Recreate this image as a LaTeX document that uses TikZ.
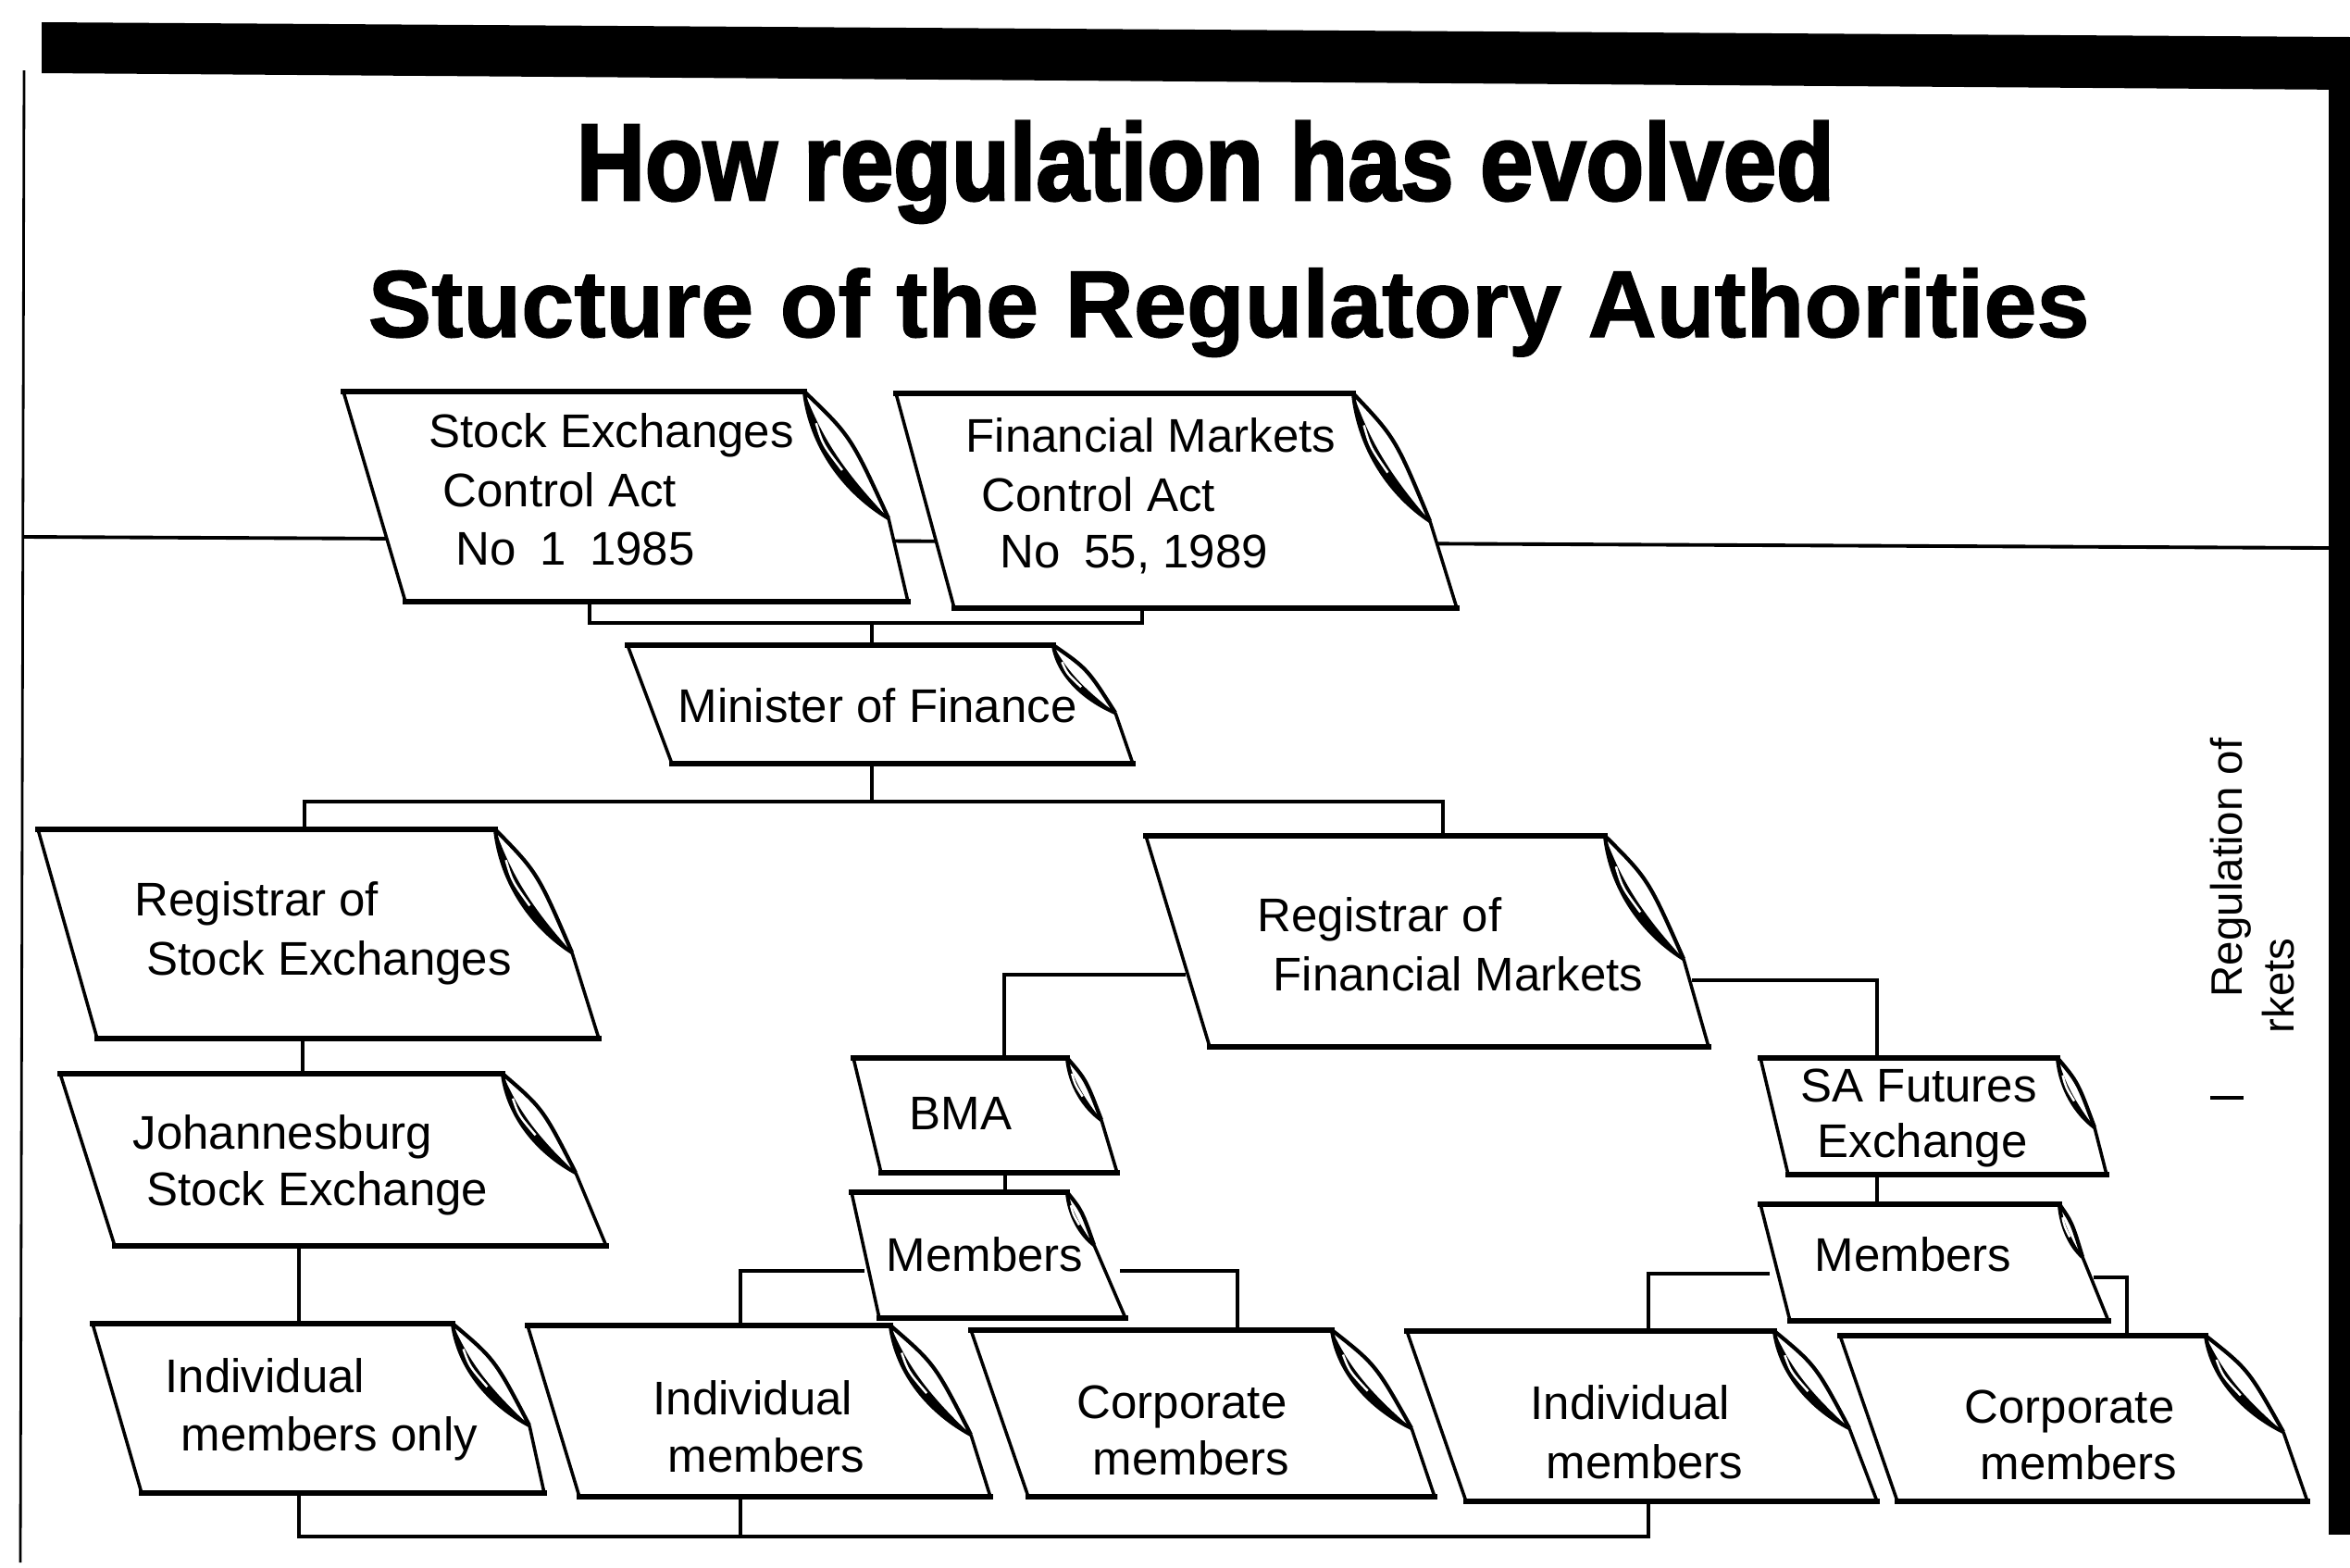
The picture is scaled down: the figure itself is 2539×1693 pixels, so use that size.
\documentclass[tikz,border=0pt]{standalone}
\usepackage{fontspec}
\usepackage{graphicx}
\setmainfont{Liberation Sans}
\newfontfamily\titlefont{Liberation Sans}[BoldFeatures={FakeBold=2.5}]
\newfontfamily\subfont{Liberation Sans}[BoldFeatures={FakeBold=1.2}]
\usetikzlibrary{calc}
\newcommand\boxfont{\fontsize{14.5}{18}\selectfont}
\newcommand\docbox[9]{%
  \coordinate (#1-tl) at (#2,#3);
  \coordinate (#1-a) at (#4,#3);
  \coordinate (#1-f) at (#5,#6);
  \coordinate (#1-br) at (#7,#8);
  \coordinate (#1-bl) at (#9,#8);
  \pgfmathsetmacro\ddx{#5-#4}\pgfmathsetmacro\ddy{#6-#3}%
  \fill[white] (#1-tl) -- (#1-a) .. controls (#4+0.55*\ddx,#3+0.35*\ddy) .. (#1-f) -- (#1-br) -- (#1-bl) -- cycle;
  \draw[topedge] (#1-tl) -- (#1-a);
  \draw[topedge] (#1-bl) -- (#1-br);
  \draw[sideedge] (#1-tl) -- (#1-bl);
  \draw[sideedge] (#1-f) -- (#1-br);
  \fill[black] (#1-a) .. controls (#4+0.08*\ddx,#3+0.45*\ddy) and (#4+0.5*\ddx,#3+0.8*\ddy) .. (#1-f)
     .. controls (#4+0.45*\ddx,#3+0.62*\ddy) and (#4+0.2*\ddx,#3+0.35*\ddy) .. (#1-a) -- cycle;
  \draw[curlline] (#1-a) .. controls (#4+0.55*\ddx,#3+0.35*\ddy) .. (#1-f);
  \draw[curlline] (#1-a) .. controls (#4+0.08*\ddx,#3+0.45*\ddy) and (#4+0.5*\ddx,#3+0.8*\ddy) .. (#1-f);
  \draw[line width=0.7pt, white] (#4+0.14*\ddx,#3+0.25*\ddy) .. controls (#4+0.22*\ddx,#3+0.42*\ddy) .. (#4+0.45*\ddx,#3+0.62*\ddy);
}
\begin{document}
\begin{tikzpicture}[x=0.01cm, y=-0.01cm,
  topedge/.style={line width=1.7pt, line cap=rect},
  sideedge/.style={line width=1pt},
  curlline/.style={line width=1.2pt, line join=round},
  conn/.style={line width=1.1pt},
  lbl/.style={font=\boxfont, inner sep=0pt, anchor=base west},
  side/.style={font=\fontsize{13.5}{15}\selectfont, inner sep=0pt, anchor=base west, rotate=90}]
\useasboundingbox (0,0) rectangle (2539,1693);
% frame
\fill (45,24) -- (2539,40) -- (2539,97) -- (45,79) -- cycle;
\fill (2516,60) rectangle (2539,1658);
\draw[line width=0.8pt] (26,76) -- (22,1688);
\draw[line width=1.1pt] (26,580) -- (2516,592);
\draw[line width=1pt] (2388,1186) -- (2424,1186);

% titles
\node[anchor=base west, inner sep=0pt] (title) at (622,216)
  {\fontsize{33.4}{36}\titlefont\bfseries\scalebox{0.875}[1]{How regulation has evolved}};
\node[anchor=base west, inner sep=0pt] (subtitle) at (397,364)
  {\fontsize{29.2}{32}\subfont\bfseries Stucture of the Regulatory Authorities};

% connector coordinates
\coordinate (sec-b) at (637,650);
\coordinate (fmc-b) at (1234,657);
\coordinate (j1) at (942,673);
\coordinate (min-t) at (942,697);
\coordinate (min-b) at (942,825);
\coordinate (j2) at (942,866);
\coordinate (rse-t) at (329,896);
\coordinate (rfm-t) at (1559,903);
\coordinate (rse-b) at (327,1122);
\coordinate (jse-t) at (327,1160);
\coordinate (jse-b) at (323,1346);
\coordinate (imo-t) at (323,1430);
\coordinate (imo-b) at (323,1613);
\coordinate (j3) at (800,1660);
\coordinate (imb-b) at (800,1617);
\coordinate (ims-b) at (1781,1622);
\coordinate (rfm-l) at (1281,1053);
\coordinate (bma-t) at (1085,1143);
\coordinate (rfm-r) at (1828,1059);
\coordinate (saf-t) at (2028,1143);
\coordinate (bma-b) at (1086,1267);
\coordinate (bmm-t) at (1086,1288);
\coordinate (bmm-l) at (934,1373);
\coordinate (imb-t) at (800,1432);
\coordinate (bmm-r) at (1210,1373);
\coordinate (cob-t) at (1337,1437);
\coordinate (saf-b) at (2028,1269);
\coordinate (sfm-t) at (2028,1301);
\coordinate (sfm-l) at (1912,1376);
\coordinate (ims-t) at (1781,1438);
\coordinate (sfm-r) at (2262,1380);
\coordinate (cos-t) at (2298,1443);

% connectors
\draw[conn] (sec-b) |- (j1) -| (fmc-b);
\draw[conn] (j1) -- (min-t);
\draw[conn] (min-b) -- (j2);
\draw[conn] (rse-t) |- (j2) -| (rfm-t);
\draw[conn] (rse-b) -- (jse-t);
\draw[conn] (jse-b) -- (imo-t);
\draw[conn] (imo-b) |- (j3) -| (ims-b);
\draw[conn] (j3) -- (imb-b);
\draw[conn] (rfm-l) -| (bma-t);
\draw[conn] (rfm-r) -| (saf-t);
\draw[conn] (bma-b) -- (bmm-t);
\draw[conn] (bmm-l) -| (imb-t);
\draw[conn] (bmm-r) -| (cob-t);
\draw[conn] (saf-b) -- (sfm-t);
\draw[conn] (sfm-l) -| (ims-t);
\draw[conn] (sfm-r) -| (cos-t);

% boxes: name, TLx, top y, fold start x, fold end x, fold end y, BRx, bottom y, BLx
\docbox{sec}{371}{423}{869}{960}{560}{981}{650}{438}
\docbox{fmc}{968}{425}{1462}{1545}{563}{1574}{657}{1031}
\docbox{min}{678}{697}{1138}{1205}{770}{1224}{825}{726}
\docbox{rse}{41}{896}{535}{618}{1029}{647}{1122}{105}
\docbox{jse}{65}{1160}{543}{622}{1267}{655}{1346}{124}
\docbox{rfm}{1238}{903}{1734}{1819}{1036}{1846}{1131}{1307}
\docbox{bma}{922}{1143}{1153}{1190}{1210}{1207}{1267}{952}
\docbox{bmm}{920}{1288}{1153}{1182}{1345}{1216}{1424}{950}
\docbox{saf}{1902}{1143}{2223}{2263}{1218}{2276}{1269}{1932}
\docbox{sfm}{1902}{1301}{2225}{2250}{1358}{2278}{1427}{1934}
\docbox{imo}{100}{1430}{489}{572}{1540}{588}{1613}{153}
\docbox{imb}{570}{1432}{962}{1049}{1550}{1070}{1617}{626}
\docbox{cob}{1049}{1437}{1439}{1525}{1543}{1550}{1617}{1111}
\docbox{ims}{1520}{1438}{1917}{1998}{1543}{2028}{1622}{1584}
\docbox{cos}{1988}{1443}{2383}{2467}{1547}{2493}{1622}{2050}

% labels
\node[lbl] (sec1) at (463,483) {Stock Exchanges};
\node[lbl] (sec2) at (478,547) {Control Act};
\node[lbl] (sec3) at (492,610) {No\enspace 1\enspace 1985};
\node[lbl] (fmc1) at (1043,488) {Financial Markets};
\node[lbl] (fmc2) at (1060,552) {Control Act};
\node[lbl] (fmc3) at (1080,613) {No\enspace 55, 1989};
\node[lbl] (min1) at (732,780) {Minister of Finance};
\node[lbl] (rse1) at (145,989) {Registrar of};
\node[lbl] (rse2) at (158,1053) {Stock Exchanges};
\node[lbl] (jse1) at (143,1241) {Johannesburg};
\node[lbl] (jse2) at (158,1302) {Stock Exchange};
\node[lbl] (rfm1) at (1358,1006) {Registrar of};
\node[lbl] (rfm2) at (1375,1070) {Financial Markets};
\node[lbl] (bma1) at (982,1220) {BMA};
\node[lbl] (bmm1) at (957,1373) {Members};
\node[lbl] (saf1) at (1945,1190) {SA Futures};
\node[lbl] (saf2) at (1963,1250) {Exchange};
\node[lbl] (sfm1) at (1960,1373) {Members};
\node[lbl] (imo1) at (178,1504) {Individual};
\node[lbl] (imo2) at (195,1567) {members only};
\node[lbl] (imb1) at (705,1528) {Individual};
\node[lbl] (imb2) at (721,1590) {members};
\node[lbl] (cob1) at (1163,1532) {Corporate};
\node[lbl] (cob2) at (1180,1593) {members};
\node[lbl] (ims1) at (1653,1533) {Individual};
\node[lbl] (ims2) at (1670,1597) {members};
\node[lbl] (cos1) at (2122,1537) {Corporate};
\node[lbl] (cos2) at (2139,1598) {members};

% side text
\node[side] (reg1) at (2422,1078) {Regulation of};
\node[side] (reg2) at (2478,1117) {rkets};
\end{tikzpicture}
\end{document}
